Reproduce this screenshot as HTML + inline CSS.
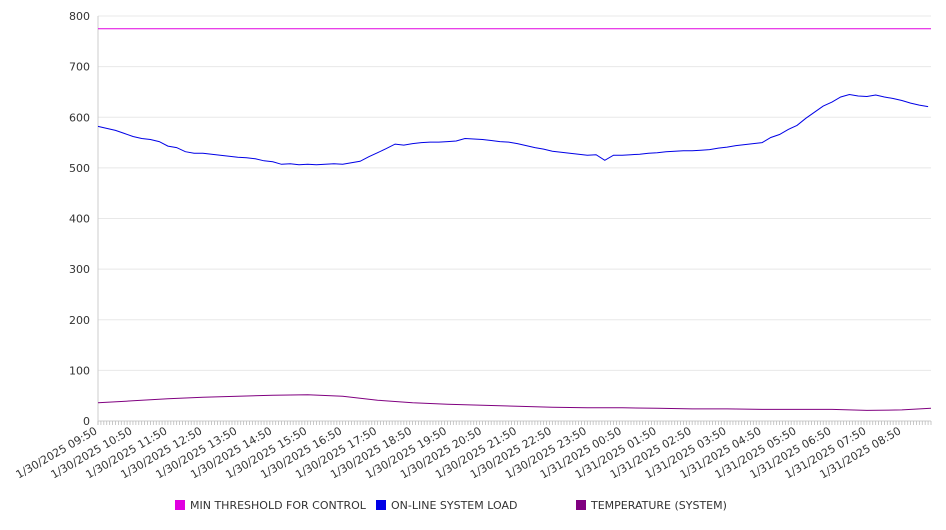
<!DOCTYPE html>
<html><head><meta charset="utf-8"><style>
body{margin:0;background:#fff;font-family:"DejaVu Sans","Liberation Sans",sans-serif}
svg text{font-family:"DejaVu Sans","Liberation Sans",sans-serif;fill:#333}
</style></head><body>
<svg id="chart" width="946" height="526" xmlns="http://www.w3.org/2000/svg"></svg>
<script>
const yTicks=[0,100,200,300,400,500,600,700,800];
const xLabels=["1/30/2025 09:50","1/30/2025 10:50","1/30/2025 11:50","1/30/2025 12:50","1/30/2025 13:50","1/30/2025 14:50","1/30/2025 15:50","1/30/2025 16:50","1/30/2025 17:50","1/30/2025 18:50","1/30/2025 19:50","1/30/2025 20:50","1/30/2025 21:50","1/30/2025 22:50","1/30/2025 23:50","1/31/2025 00:50","1/31/2025 01:50","1/31/2025 02:50","1/31/2025 03:50","1/31/2025 04:50","1/31/2025 05:50","1/31/2025 06:50","1/31/2025 07:50","1/31/2025 08:50"];
const thresholdValue=775;
const loadValues=[582,578,574,568,562,558,556,552,543,540,532,529,529,527,525,523,521,520,518,514,512,507,508,506,507,506,507,508,507,510,513,522,530,538,547,545,548,550,551,551,552,553,558,557,556,554,552,551,548,544,540,537,533,531,529,527,525,526,515,525,525,526,527,529,530,532,533,534,534,535,536,539,541,544,546,548,550,560,566,576,584,598,610,622,630,640,645,642,641,644,640,637,633,628,624,621];
const tempValues=[36,40,44,47,49,51,52,49,41,36,33,31,29,27,26,26,25,24,24,23,23,23,21,22,25];
const series=[
 {name:"MIN THRESHOLD FOR CONTROL",color:"#e000e0"},
 {name:"ON-LINE SYSTEM LOAD",color:"#0000e6"},
 {name:"TEMPERATURE (SYSTEM)",color:"#800080"}];
const svg=document.getElementById('chart');
const NS="http://www.w3.org/2000/svg";
const X0=98,X1=931,Y0=421,Y1=16,TMAX=1430;
const xs=m=>X0+(m/TMAX)*(X1-X0);
const ys=v=>Y0-(v/800)*(Y0-Y1);
function mk(t,a){const e=document.createElementNS(NS,t);for(const k in a)e.setAttribute(k,a[k]);svg.appendChild(e);return e;}
yTicks.forEach(v=>{
 const g=mk('line',{x1:X0,x2:X1,y1:ys(v),y2:ys(v),stroke:v===0?'#ccc':'#e8e8e8','stroke-width':1});
 
 
 const t=mk('text',{x:90,y:ys(v)+4,'text-anchor':'end','font-size':11});
 t.textContent=v;
 
 
});
const ax=mk('line',{x1:X0,x2:X0,y1:Y1,y2:Y0+4,stroke:'#ccc'});


for(let m=0;m<=TMAX;m+=5){
 const tk=mk('line',{x1:xs(m),x2:xs(m),y1:Y0,y2:Y0+4,stroke:'#bbb','stroke-width':0.8});
 
 
}
xLabels.forEach((l,i)=>{
 const x=xs(i*60);
 const t=mk('text',{x:x,y:Y0+12,'text-anchor':'end','font-size':11,transform:`rotate(-30 ${x} ${Y0+12})`});
 t.textContent=l;
 
 
});
function line(vals,step,color,name){
 const pts=vals.map((v,i)=>`${xs(Math.min(i*step,TMAX)).toFixed(1)},${ys(v).toFixed(1)}`).join(' ');
 const p=mk('polyline',{points:pts,fill:'none',stroke:color,'stroke-width':1});
 
 
}
line([thresholdValue,thresholdValue],TMAX,series[0].color,'threshold-line');
line(loadValues,15,series[1].color,'system-load-line');
line(tempValues,60,series[2].color,'temperature-line');
const lx=[175,376,576];
series.forEach((s,i)=>{
 const r=mk('rect',{x:lx[i],y:500,width:10,height:10,fill:s.color});
 
 
 const t=mk('text',{x:lx[i]+15,y:509,'font-size':11});
 t.textContent=s.name;
 
 
});
</script>
</body></html>
